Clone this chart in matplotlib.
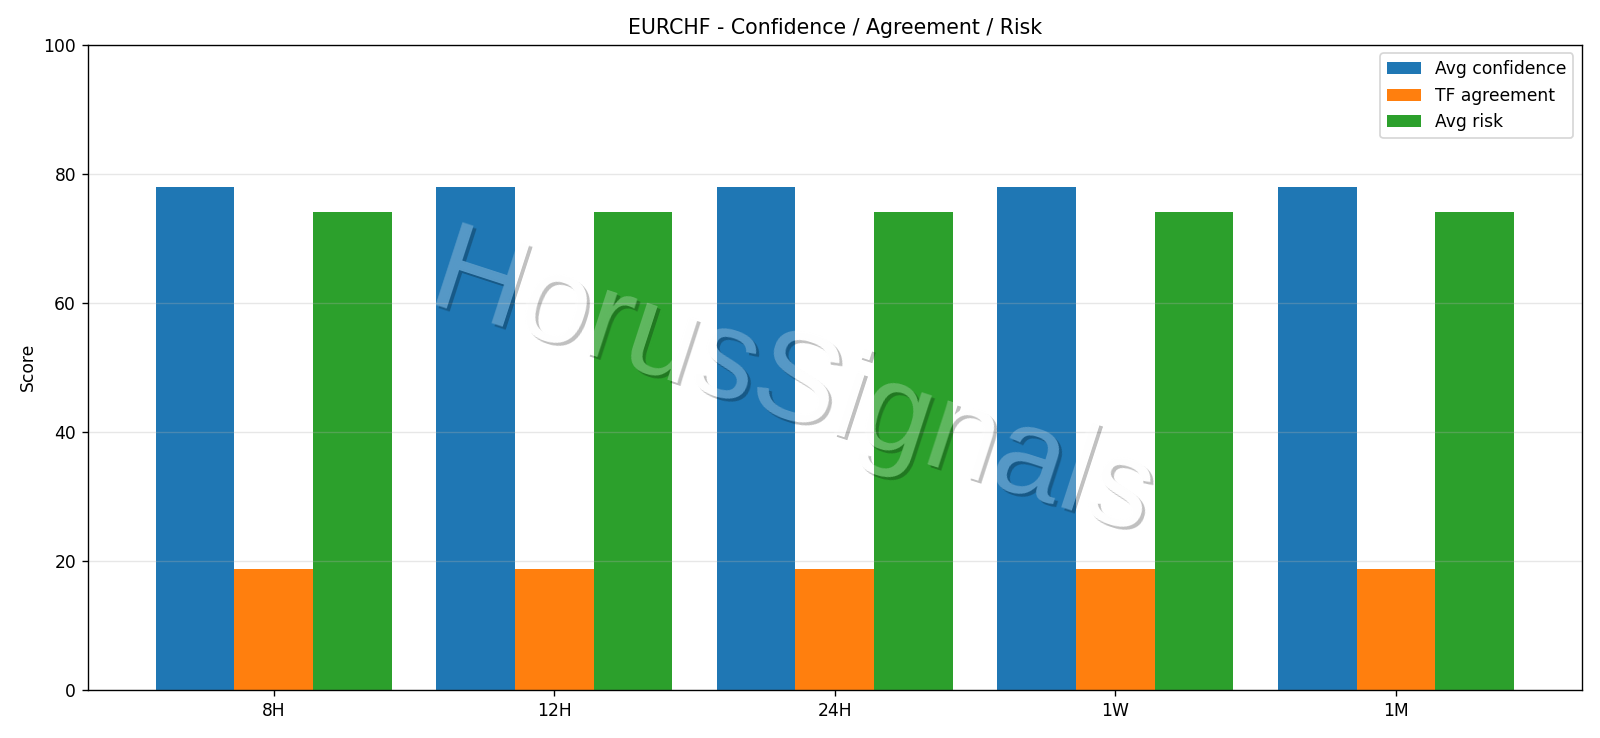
import matplotlib
matplotlib.use("Agg")
import matplotlib.pyplot as plt
import numpy as np

# data
timeframes = ['8H', '12H', '24H', '1W', '1M']
avg_confidence = [78, 78, 78, 78, 78]
tf_agreement = [18.75, 18.75, 18.75, 18.75, 18.75]
avg_risk = [74, 74, 74, 74, 74]


def watermark_filter(im, dpi):
    # white body + dark drop shadow, composited then faded as one group
    pad = 8
    a = np.pad(im[..., 3], pad)
    s = np.roll(np.roll(a, 3, axis=0), 3, axis=1)
    A = a + s * (1 - a)
    c = np.divide(a, A, out=np.zeros_like(a), where=A > 0)
    out = np.zeros(a.shape + (4,))
    out[..., 0] = c
    out[..., 1] = c
    out[..., 2] = c
    out[..., 3] = A * 0.25
    return out, -pad, -pad


dpi = 123
fig, ax = plt.subplots(figsize=(1600 / dpi, 738 / dpi), dpi=dpi)

x = np.arange(len(timeframes))
w = 0.28
ax.bar(x - w, avg_confidence, w, label='Avg confidence')
ax.bar(x, tf_agreement, w, label='TF agreement')
ax.bar(x + w, avg_risk, w, label='Avg risk')

ax.set_xticks(x)
ax.set_xticklabels(timeframes)
ax.set_ylim(0, 100)
ax.set_ylabel('Score')
ax.set_title('EURCHF - Confidence / Agreement / Risk')
ax.grid(axis='y', alpha=0.3)
ax.legend(loc='upper right')

plt.tight_layout()

wm = fig.text(0.495, 0.473, 'HorusSignals', fontsize=74, family='Liberation Sans',
              color='white', rotation=-18, ha='center', va='center', zorder=10)
wm.set_agg_filter(watermark_filter)

plt.savefig('out.png', dpi=dpi)
